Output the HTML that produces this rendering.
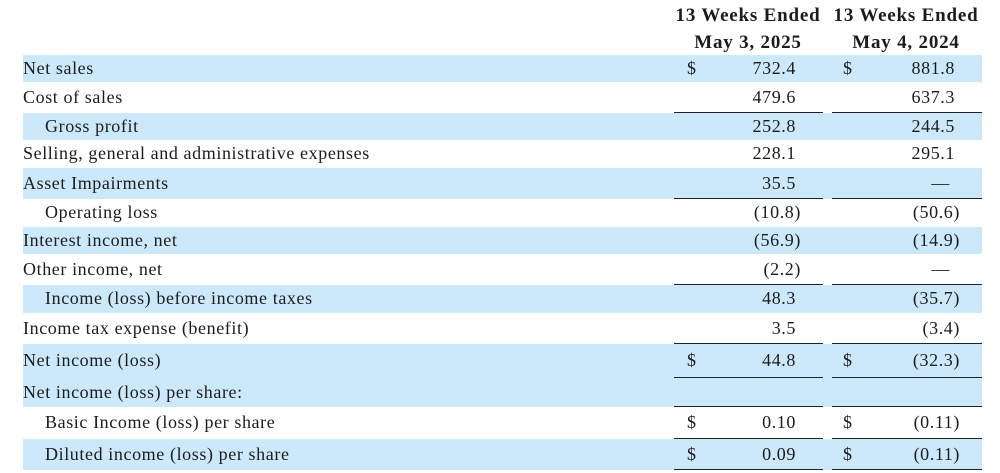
<!DOCTYPE html>
<html><head><meta charset="utf-8"><style>
body{margin:0;width:1000px;height:473px;background:#fff;position:relative;overflow:hidden;font-family:"Liberation Serif",serif;color:#1c1c1c}
.bg{position:absolute;left:23px;width:959px;background:#cce9fb}
.t{position:absolute;font-size:18px;letter-spacing:0.6px;line-height:20px;white-space:nowrap}
.r{text-align:right}
.ln{position:absolute;height:1px;background:#222}
.h{position:absolute;font-weight:bold;font-size:19px;letter-spacing:0.8px;text-align:center;white-space:nowrap}
</style></head><body>
<div class="h" style="left:668px;width:160px;top:5px">13 Weeks Ended</div>
<div class="h" style="left:668px;width:160px;top:32px">May 3, 2025</div>
<div class="h" style="left:826px;width:160px;top:5px">13 Weeks Ended</div>
<div class="h" style="left:826px;width:160px;top:32px">May 4, 2024</div>
<div id="tbl"></div>
<script>
const rows=[
["Net sales",0,"$","732.4","$","881.8",55,82,1,""],
["Cost of sales",0,"","479.6","","637.3",82,113,0,"line"],
["Gross profit",1,"","252.8","","244.5",113,140,1,""],
["Selling, general and administrative expenses",0,"","228.1","","295.1",140,168,0,""],
["Asset Impairments",0,"","35.5","","—",168,199,1,"line"],
["Operating loss",1,"","(10.8)","","(50.6)",199,227,0,""],
["Interest income, net",0,"","(56.9)","","(14.9)",227,254,1,""],
["Other income, net",0,"","(2.2)","","—",254,285,0,"line"],
["Income (loss) before income taxes",1,"","48.3","","(35.7)",285,313,1,""],
["Income tax expense (benefit)",0,"","3.5","","(3.4)",313,344,0,"line"],
["Net income (loss)",0,"$","44.8","$","(32.3)",344,378,1,"double"],
["Net income (loss) per share:",0,"","","","",378,407,1,"line"],
["Basic Income (loss) per share",1,"$","0.10","$","(0.11)",407,439,0,"line"],
["Diluted income (loss) per share",1,"$","0.09","$","(0.11)",439,470,1,"line"]];
const tbl=document.getElementById('tbl');
function add(cls,style,txt){const d=document.createElement('div');d.className=cls;d.style.cssText=style;if(txt!==undefined)d.textContent=txt;tbl.appendChild(d);return d;}
rows.forEach((r,i)=>{
 const [lab,ind,d1,v1,d2,v2,y0,y1,sh,ln]=r;
 if(sh){const b=add('bg',`top:${y0}px;height:${y1-y0}px`);
 
 }
 const ty=(y0+y1)/2-11;
 const l=add('t',`left:${ind?45:23}px;top:${ty}px`,lab);
 
 
 if(d1){const e=add('t',`left:687px;top:${ty}px`,d1);}
 if(d2){const e=add('t',`left:843px;top:${ty}px`,d2);}
 const a=add('t r',`left:700px;width:${v1.startsWith('(')?101:96}px;top:${ty}px`,v1);
 
 
 const bw=v2==='—'?950:(v2.startsWith('(')?960:955);
 const b2=add('t r',`left:860px;width:${bw-860}px;top:${ty}px`,v2);
 
 
 if(ln){[[674,823],[832,982]].forEach(([x0,x1])=>{
  const L=add('ln',`left:${x0}px;width:${x1-x0}px;top:${y1-1}px`);
  
  
  if(ln==='double'){const L2=add('ln',`left:${x0}px;width:${x1-x0}px;top:${y1+1}px`);
  
  }
 });}
});
</script>
</body></html>
